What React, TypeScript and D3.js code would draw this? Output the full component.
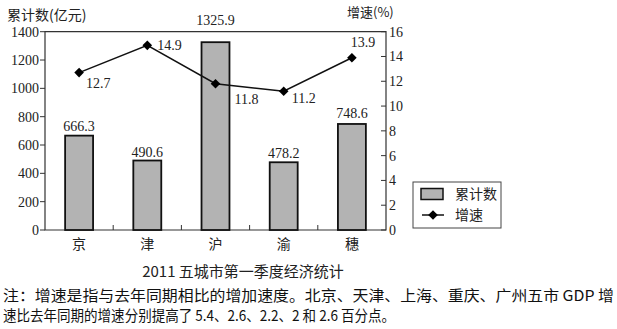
import React from "react";
import * as d3 from "d3";

const categories = ["京", "津", "沪", "渝", "穗"];
const totals = [666.3, 490.6, 1325.9, 478.2, 748.6];
const growth = [12.7, 14.9, 11.8, 11.2, 13.9];
const leftTicks = [0, 200, 400, 600, 800, 1000, 1200, 1400];
const rightTicks = [0, 2, 4, 6, 8, 10, 12, 14, 16];
const title = "2011 五城市第一季度经济统计";
const noteLine1 = "注：增速是指与去年同期相比的增加速度。北京、天津、上海、重庆、广州五市 GDP 增";
const noteLine2 = "速比去年同期的增速分别提高了 5.4、2.6、2.2、2 和 2.6 百分点。";

const W = 617, H = 329;
const m = { left: 45, right: 386, top: 31.7, bottom: 230 };
const serif = "'Liberation Serif', 'Times New Roman', serif";
const cjk = "'Noto Sans CJK SC', sans-serif";

// label offsets (layout)
const barLabelDy = [-5, -4, -17, -4, -6];
const lineLabelOff: [number, number, string][] = [
  [7, 15, "start"],
  [10, 5, "start"],
  [19, 20, "start"],
  [8, 12, "start"],
  [11, -11, "middle"],
];

const diamond = (cx: number, cy: number, r: number) =>
  `M${cx},${cy - r}L${cx + r},${cy}L${cx},${cy + r}L${cx - r},${cy}Z`;

export default function App() {
  const x = d3.scaleBand<string>().domain(categories).range([m.left, m.right]);
  const yL = d3.scaleLinear().domain([0, 1400]).range([m.bottom, m.top]);
  const yR = d3.scaleLinear().domain([0, 16]).range([m.bottom, m.top]);
  const bw = x.bandwidth() * 0.41;
  const line = d3
    .line<number>()
    .x((_, i) => (x(categories[i]) as number) + x.bandwidth() / 2)
    .y((d) => yR(d));

  return (
    <svg width={W} height={H} style={{ position: "absolute", left: 0, top: 0, background: "#fff" }}>
      {/* axis titles */}
      <text x={7} y={20} fontFamily={cjk} fontSize={14} fill="#222">累计数(亿元)</text>
      <text x={347} y={17} fontFamily={cjk} fontSize={13} fill="#222">增速(%)</text>

      {/* plot frame */}
      <path d={`M${m.left},${m.top}H${m.right}V${m.bottom}H${m.left}Z`} fill="none" stroke="#333" strokeWidth={1.2} />

      {/* left ticks */}
      {leftTicks.map((t) => (
        <g key={"l" + t}>
          <line x1={m.left - 5} x2={m.left} y1={yL(t)} y2={yL(t)} stroke="#333" />
          <text x={m.left - 6} y={yL(t) + 5} textAnchor="end" fontFamily={serif} fontSize={14} fill="#222">{t}</text>
        </g>
      ))}
      {/* right ticks */}
      {rightTicks.map((t) => (
        <g key={"r" + t}>
          <line x1={m.right - 5} x2={m.right} y1={yR(t)} y2={yR(t)} stroke="#333" />
          <text x={m.right + 3} y={yR(t) + 5} textAnchor="start" fontFamily={serif} fontSize={14} fill="#222">{t}</text>
        </g>
      ))}
      {/* bottom category separators */}
      {categories.slice(1).map((c) => (
        <line key={"s" + c} x1={x(c)} x2={x(c)} y1={m.bottom} y2={m.bottom - 5} stroke="#333" />
      ))}
      {categories.map((c) => (
        <text key={"c" + c} x={(x(c) as number) + x.bandwidth() / 2} y={249} textAnchor="middle" fontFamily={cjk} fontSize={14} fill="#222">{c}</text>
      ))}

      {/* bars */}
      {totals.map((v, i) => {
        const cx = (x(categories[i]) as number) + x.bandwidth() / 2;
        return (
          <g key={"b" + i}>
            <rect x={cx - bw / 2} y={yL(v)} width={bw} height={m.bottom - yL(v)} fill="#b3b3b3" stroke="#111" strokeWidth={1.8} />
            <text x={cx} y={yL(v) + barLabelDy[i]} textAnchor="middle" fontFamily={serif} fontSize={14} fill="#222">{v.toFixed(1)}</text>
          </g>
        );
      })}

      {/* line */}
      <path d={line(growth) || ""} fill="none" stroke="#111" strokeWidth={1.5} />
      {growth.map((v, i) => {
        const cx = (x(categories[i]) as number) + x.bandwidth() / 2;
        const cy = yR(v);
        const [dx, dy, anchor] = lineLabelOff[i];
        return (
          <g key={"p" + i}>
            <path d={diamond(cx, cy, 4.8)} fill="#000" />
            <text x={cx + dx} y={cy + dy} textAnchor={anchor as any} fontFamily={serif} fontSize={14} fill="#222">{v.toFixed(1)}</text>
          </g>
        );
      })}

      {/* legend */}
      <rect x={413} y={182} width={88} height={46} fill="#fff" stroke="#444" strokeWidth={1} />
      <rect x={421} y={188.5} width={22} height={11} fill="#b3b3b3" stroke="#111" strokeWidth={1.5} />
      <text x={455} y={199} fontFamily={cjk} fontSize={14} fill="#222">累计数</text>
      <line x1={422} x2={444} y1={215} y2={215} stroke="#111" strokeWidth={1.5} />
      <path d={diamond(433, 215, 4.8)} fill="#000" />
      <text x={455} y={220} fontFamily={cjk} fontSize={14} fill="#222">增速</text>

      {/* title & notes */}
      <text x={243} y={277} textAnchor="middle" fontFamily={cjk} fontSize={15} fill="#222">{title}</text>
      <text x={3} y={301} fontFamily={cjk} fontSize={15} fill="#111" textLength={611} lengthAdjust="spacingAndGlyphs">{noteLine1}</text>
      <text x={3} y={321} fontFamily={cjk} fontSize={15} fill="#111" textLength={392} lengthAdjust="spacingAndGlyphs">{noteLine2}</text>
    </svg>
  );
}
